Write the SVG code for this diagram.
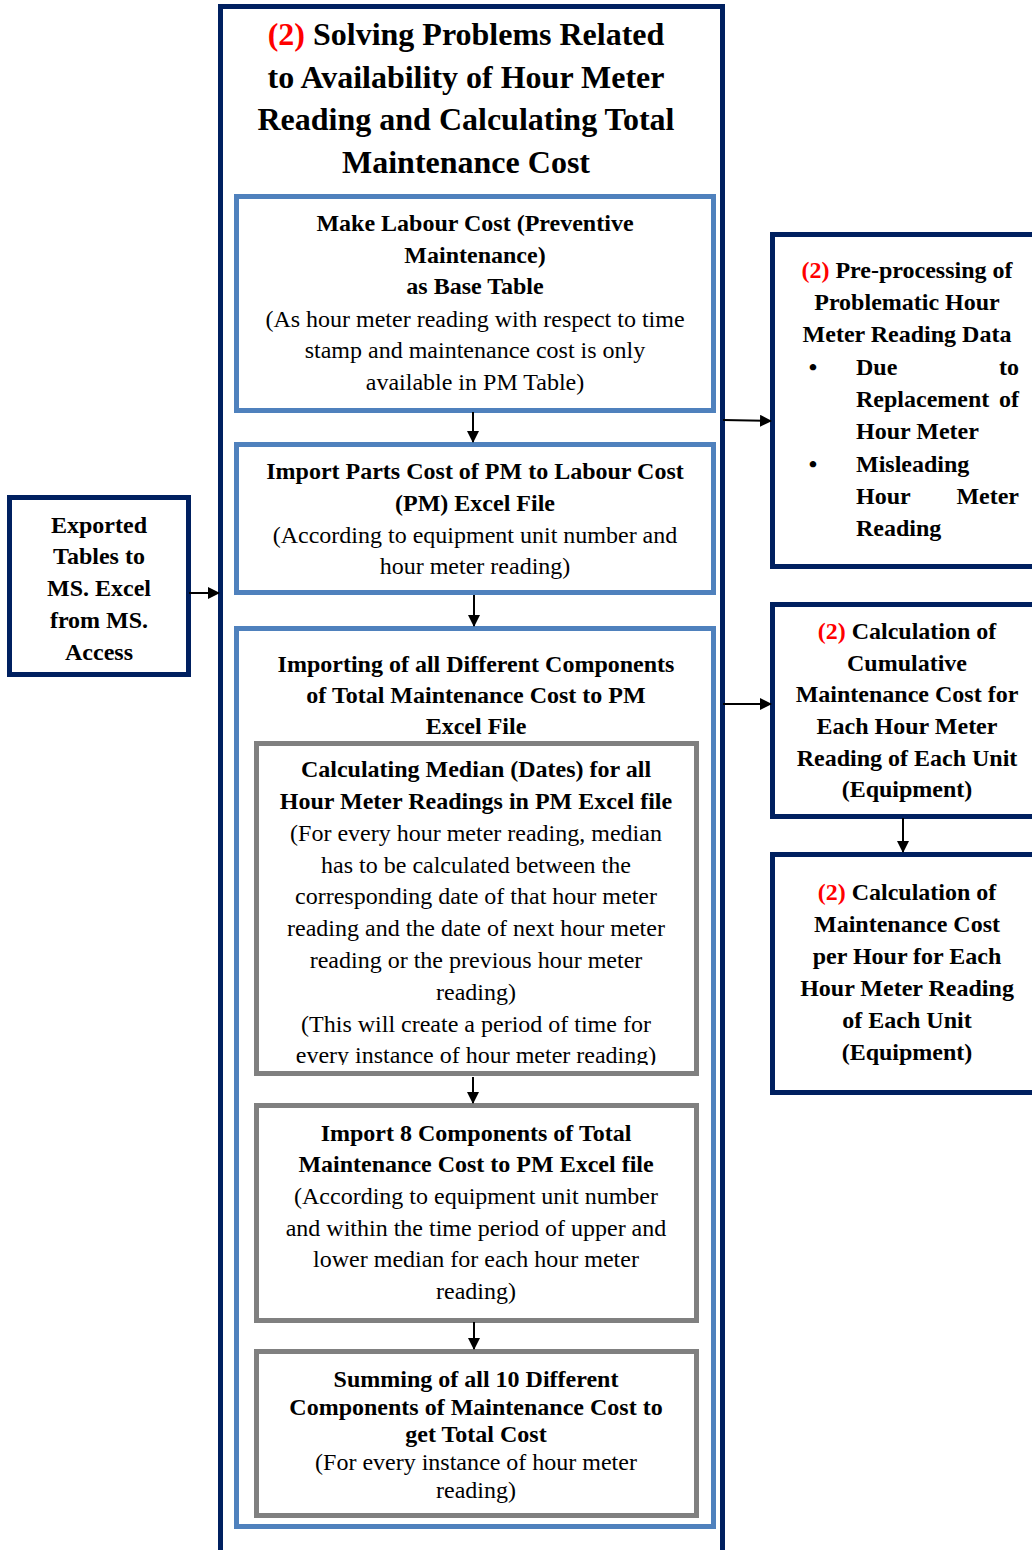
<svg xmlns="http://www.w3.org/2000/svg" width="1032" height="1550" viewBox="0 0 1032 1550">
<style>
text{font-family:"Liberation Serif","Times New Roman",serif;fill:#000}
.t{font-size:32px;font-weight:bold;text-anchor:middle}
.b{font-size:24px;font-weight:bold;text-anchor:middle}
.r{font-size:24px;text-anchor:middle}
.bl{font-size:24px;font-weight:bold}
.red{fill:#ff0000}
.navy{fill:#fff;stroke:#002060;stroke-width:5}
.blue{fill:#fff;stroke:#4f81bd;stroke-width:5}
.gray{fill:#fff;stroke:#808080;stroke-width:5}
.c{stroke:#000;stroke-width:2;fill:none;marker-end:url(#ah)}
</style>
<defs>
<marker id="ah" markerWidth="12" markerHeight="12" refX="11" refY="6" orient="auto" markerUnits="userSpaceOnUse">
<path d="M0,0 L12,6 L0,12 Z" fill="#000"/>
</marker>
<clipPath id="clipA"><rect x="258" y="745" width="437" height="320"/></clipPath>
</defs>
<rect width="1032" height="1550" fill="#fff"/>

<g id="main">
<rect class="navy" x="220.5" y="6.5" width="502" height="1600"/>
<text class="t" x="466" y="45"><tspan class="red">(2)</tspan> Solving Problems Related</text>
<text class="t" x="466" y="88">to Availability of Hour Meter</text>
<text class="t" x="466" y="130">Reading and Calculating Total</text>
<text class="t" x="466" y="173">Maintenance Cost</text>
</g>

<g id="labour">
<rect class="blue" x="236.5" y="196.5" width="477" height="214"/>
<text class="b" x="475" y="231">Make Labour Cost (Preventive</text>
<text class="b" x="475" y="263">Maintenance)</text>
<text class="b" x="475" y="294">as Base Table</text>
<text class="r" x="475" y="327">(As hour meter reading with respect to time</text>
<text class="r" x="475" y="358">stamp and maintenance cost is only</text>
<text class="r" x="475" y="390">available in PM Table)</text>
</g>

<g id="parts">
<rect class="blue" x="236.5" y="444.5" width="477" height="148"/>
<text class="b" x="475" y="479">Import Parts Cost of PM to Labour Cost</text>
<text class="b" x="475" y="511">(PM) Excel File</text>
<text class="r" x="475" y="543">(According to equipment unit number and</text>
<text class="r" x="475" y="574">hour meter reading)</text>
</g>

<g id="importing">
<rect class="blue" x="236.5" y="628.5" width="477" height="898"/>
<text class="b" x="476" y="672">Importing of all Different Components</text>
<text class="b" x="476" y="703">of Total Maintenance Cost to PM</text>
<text class="b" x="476" y="734">Excel File</text>
</g>

<g id="median">
<rect class="gray" x="256.5" y="743.5" width="440" height="330"/>
<g clip-path="url(#clipA)">
<text class="b" x="476" y="777">Calculating Median (Dates) for all</text>
<text class="b" x="476" y="809">Hour Meter Readings in PM Excel file</text>
<text class="r" x="476" y="841">(For every hour meter reading, median</text>
<text class="r" x="476" y="873">has to be calculated between the</text>
<text class="r" x="476" y="904">corresponding date of that hour meter</text>
<text class="r" x="476" y="936">reading and the date of next hour meter</text>
<text class="r" x="476" y="968">reading or the previous hour meter</text>
<text class="r" x="476" y="1000">reading)</text>
<text class="r" x="476" y="1032">(This will create a period of time for</text>
<text class="r" x="476" y="1063">every instance of hour meter reading)</text>
</g>
</g>

<g id="import8">
<rect class="gray" x="256.5" y="1105.5" width="440" height="215"/>
<text class="b" x="476" y="1141">Import 8 Components of Total</text>
<text class="b" x="476" y="1172">Maintenance Cost to PM Excel file</text>
<text class="r" x="476" y="1204">(According to equipment unit number</text>
<text class="r" x="476" y="1236">and within the time period of upper and</text>
<text class="r" x="476" y="1267">lower median for each hour meter</text>
<text class="r" x="476" y="1299">reading)</text>
</g>

<g id="summing">
<rect class="gray" x="256.5" y="1351.5" width="440" height="164"/>
<text class="b" x="476" y="1387">Summing of all 10 Different</text>
<text class="b" x="476" y="1415">Components of Maintenance Cost to</text>
<text class="b" x="476" y="1442">get Total Cost</text>
<text class="r" x="476" y="1470">(For every instance of hour meter</text>
<text class="r" x="476" y="1498">reading)</text>
</g>

<g id="exported">
<rect class="navy" x="9.5" y="497.5" width="179" height="177"/>
<text class="b" x="99" y="533">Exported</text>
<text class="b" x="99" y="564">Tables to</text>
<text class="b" x="99" y="596">MS. Excel</text>
<text class="b" x="99" y="628">from MS.</text>
<text class="b" x="99" y="660">Access</text>
</g>

<g id="preprocessing">
<rect class="navy" x="772.5" y="234.5" width="300" height="332"/>
<text class="b" x="907" y="278"><tspan class="red">(2)</tspan> Pre-processing of</text>
<text class="b" x="907" y="310">Problematic Hour</text>
<text class="b" x="907" y="342">Meter Reading Data</text>
<text class="b" x="813" y="375">•</text>
<text class="bl" x="856" y="375">Due</text>
<text class="bl" x="1019" y="375" text-anchor="end">to</text>
<text class="bl" x="856" y="407">Replacement</text>
<text class="bl" x="1019" y="407" text-anchor="end">of</text>
<text class="bl" x="856" y="439">Hour Meter</text>
<text class="b" x="813" y="472">•</text>
<text class="bl" x="856" y="472">Misleading</text>
<text class="bl" x="856" y="504">Hour</text>
<text class="bl" x="1019" y="504" text-anchor="end">Meter</text>
<text class="bl" x="856" y="536">Reading</text>
</g>

<g id="cumulative">
<rect class="navy" x="772.5" y="604.5" width="300" height="212"/>
<text class="b" x="907" y="639"><tspan class="red">(2)</tspan> Calculation of</text>
<text class="b" x="907" y="671">Cumulative</text>
<text class="b" x="907" y="702">Maintenance Cost for</text>
<text class="b" x="907" y="734">Each Hour Meter</text>
<text class="b" x="907" y="766">Reading of Each Unit</text>
<text class="b" x="907" y="797">(Equipment)</text>
</g>

<g id="perhour">
<rect class="navy" x="772.5" y="854.5" width="300" height="238"/>
<text class="b" x="907" y="900"><tspan class="red">(2)</tspan> Calculation of</text>
<text class="b" x="907" y="932">Maintenance Cost</text>
<text class="b" x="907" y="964">per Hour for Each</text>
<text class="b" x="907" y="996">Hour Meter Reading</text>
<text class="b" x="907" y="1028">of Each Unit</text>
<text class="b" x="907" y="1060">(Equipment)</text>
</g>

<g id="connectors">
<line class="c" x1="189" y1="593" x2="219" y2="593"/>
<line class="c" x1="723" y1="420" x2="771" y2="421"/>
<line class="c" x1="723" y1="704" x2="771" y2="704"/>
<line class="c" x1="903" y1="818" x2="903" y2="852"/>
<line class="c" x1="473" y1="412" x2="473" y2="442"/>
<line class="c" x1="474" y1="595" x2="474" y2="626"/>
<line class="c" x1="473" y1="1077" x2="473" y2="1103"/>
<line class="c" x1="474" y1="1322" x2="474" y2="1349"/>
</g>
</svg>
